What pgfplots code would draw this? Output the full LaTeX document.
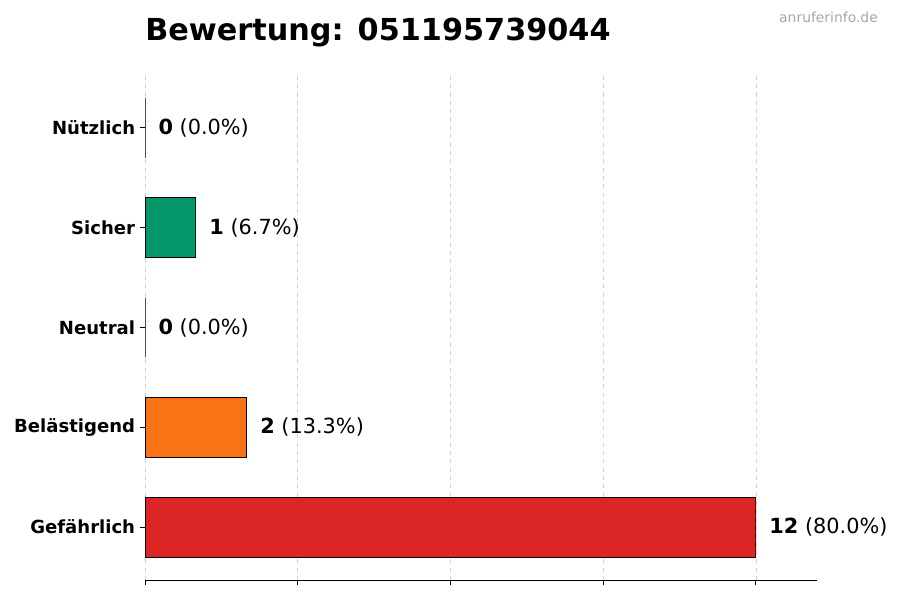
\documentclass[border=0pt]{standalone}
\usepackage{pgfplots}
\pgfplotsset{compat=1.18}
\usepackage{fontspec}
\setmainfont{DejaVu Sans}
\definecolor{cRed}{HTML}{DC2626}
\definecolor{cOrange}{HTML}{F97316}
\definecolor{cGreen}{HTML}{059669}
\begin{document}
\begin{tikzpicture}
\useasboundingbox (0,0) rectangle (648pt,432pt);
\begin{axis}[
    at={(104.4pt,14.4pt)}, anchor=south west,
    scale only axis, width=483.84pt, height=363.6pt,
    xmin=0, xmax=13.2, ymin=-0.53, ymax=4.53,
    xbar, bar width=0.6, bar shift=0pt,
    axis x line*=bottom, axis y line*=left,
    x axis line style={-, line width=0.7pt},
    y axis line style={-, draw opacity=0},
    xtick={0,3,6,9,12}, xticklabels={},
    ytick={0,1,2,3,4},
    yticklabels={Gefährlich, Belästigend, Neutral, Sicher, Nützlich},
    yticklabel style={font=\bfseries\fontsize{13}{15}\selectfont},
    tick align=outside, major tick length=3.6pt,
    tick style={black, line width=0.7pt},
    xmajorgrids, major grid style={dashed, black!18, line width=0.5pt},
    point meta=explicit symbolic,
    nodes near coords,
    every node near coord/.append style={anchor=west, inner sep=0pt, xshift=9.4pt,
        font=\fontsize{15}{18}\selectfont, text=black},
]
\addplot[fill=cRed, draw=black, line width=0.7pt] coordinates {(12,0) [\textbf{12} (80.0\%)]};
\addplot[fill=cOrange, draw=black, line width=0.7pt] coordinates {(2,1) [\textbf{2} (13.3\%)]};
\addplot[fill=white, draw=black, line width=0.7pt] coordinates {(0,2) [\textbf{0} (0.0\%)]};
\addplot[fill=cGreen, draw=black, line width=0.7pt] coordinates {(1,3) [\textbf{1} (6.7\%)]};
\addplot[fill=white, draw=black, line width=0.7pt] coordinates {(0,4) [\textbf{0} (0.0\%)]};
\end{axis}
\node[anchor=base west, inner sep=0pt, font=\bfseries\fontsize{21.8}{26}\selectfont] at (104.4pt,402.5pt) {Bewertung: 051195739044};
\node[anchor=base east, inner sep=0pt, text=black!35, font=\fontsize{10}{12}\selectfont] at (632.2pt,416pt) {anruferinfo.de};
\end{tikzpicture}
\end{document}
